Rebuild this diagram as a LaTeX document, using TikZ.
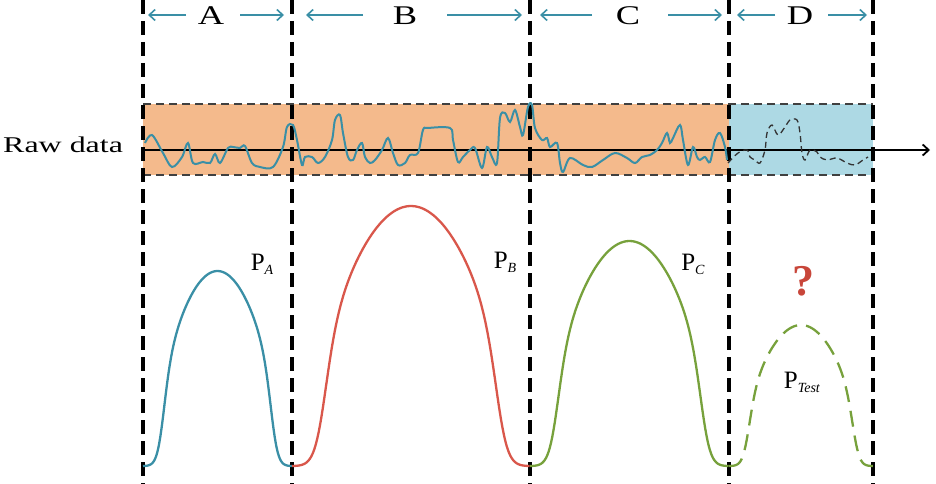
\documentclass[tikz,border=0pt]{standalone}
\usepackage{fontspec}
\setmainfont{Liberation Serif}
\usetikzlibrary{arrows.meta}
\definecolor{teal1}{HTML}{3A8FA6}
\definecolor{orangebg}{HTML}{F4BA8C}
\definecolor{bluebg}{HTML}{ADD9E4}
\definecolor{redc}{HTML}{D9574B}
\definecolor{greenc}{HTML}{77A13C}
\definecolor{qred}{HTML}{C8463A}
\tikzset{
  declare function={bumpf(\t)=(1-(2*\t-1)^2)/(1+exp((abs(2*\t-1)-0.74)/0.05));},
  vline/.style={line width=3.2pt, dash pattern=on 14pt off 7pt},
  boxline/.style={draw=black!75, line width=1.3pt, dash pattern=on 8pt off 5pt},
  rangearrow/.style={teal1, line width=1.6pt, -{Straight Barb[length=6pt,width=11pt]}},
  seclabel/.style={font=\fontsize{27}{27}\selectfont, inner sep=0pt},
  sig/.style={teal1, line width=2pt},
  bump/.style={line width=2.3pt},
  plabel/.style={font=\fontsize{25}{25}\selectfont, inner sep=0pt}
}
% bump: x0, x1, height, style
\newcommand\drawbump[4]{%
  \draw[bump,#4] plot[domain=0:1, samples=161, smooth] ({#1+\x*(#2-#1)},{466-#3*bumpf(\x)});}
\begin{document}
\begin{tikzpicture}[x=1pt,y=-1pt]
\useasboundingbox (0,0) rectangle (936,484);
% coloured boxes
\fill[orangebg] (143,104) rectangle (729,175);
\fill[bluebg] (729,104) rectangle (873,175);
\draw[boxline] (143,104) -- (873,104);
\draw[boxline] (143,175) -- (873,175);
% vertical dashed lines
\foreach \x/\n in {143/l0,292/l1,530/l2,729/l3,873/l4}{
  \coordinate (\n t) at (\x,0);
  \coordinate (\n b) at (\x,484);
  \draw[vline] (\n t) -- (\n b);
}
% section labels and arrows
\node[seclabel] (A) at (211,16) {\scalebox{1.35}[1]{A}};
\node[seclabel] (B) at (405,16) {\scalebox{1.35}[1]{B}};
\node[seclabel] (C) at (628,16) {\scalebox{1.35}[1]{C}};
\node[seclabel] (D) at (800,16) {\scalebox{1.35}[1]{D}};
\coordinate (a1) at (186,15); \coordinate (a2) at (148,15);
\coordinate (a3) at (240,15); \coordinate (a4) at (284,15);
\coordinate (b1) at (363,15); \coordinate (b2) at (306,15);
\coordinate (b3) at (447,15); \coordinate (b4) at (522,15);
\coordinate (c1) at (592,15); \coordinate (c2) at (540,15);
\coordinate (c3) at (668,15); \coordinate (c4) at (722,15);
\coordinate (d1) at (775,15); \coordinate (d2) at (737,15);
\coordinate (d3) at (828,15); \coordinate (d4) at (867,15);
\foreach \s in {a,b,c,d}{
  \draw[rangearrow] (\s1) -- (\s2);
  \draw[rangearrow] (\s3) -- (\s4);
}
% raw data label and axis
\node[font=\fontsize{22.5}{22.5}\selectfont, inner sep=0pt, anchor=west] (raw) at (3,145) {\scalebox{1.42}[1]{Raw data}};
\coordinate (ax0) at (145,150);
\coordinate (ax1) at (930,150);
\draw[line width=1.8pt, -{Straight Barb[length=6pt,width=11pt]}] (ax0) -- (ax1);
% signal
\draw[sig] plot[smooth, tension=0.55] coordinates {
(145,143) (152,135) (163,153) (172,167) (182,157) (188,143) (193,163) (203,162) (210,163) (215,154) (220,163) (228,148) (233,147) (240,148) (245,146) (252,163) (260,167) (273,167) (283,147) (287,127) (293,125) (297,140) (302,165) (305,157) (312,157) (318,163) (325,157) (332,140) (335,120) (340,115) (343,133) (348,157) (353,160) (357,150) (362,143) (365,157) (370,163) (375,160) (382,150) (388,138) (393,153) (398,165) (405,163) (410,155) (418,153) (423,130) (428,128) (450,128) (453,140) (458,162) (463,157) (470,150) (475,148) (482,168) (487,147) (492,157) (497,163) (500,118) (505,113) (510,122) (515,110) (520,127) (523,135) (528,107) (532,105) (535,128) (542,140) (547,138) (550,147) (557,143) (560,163) (563,172) (570,158) (583,165) (592,167) (603,160) (615,153) (627,158) (635,163) (642,157) (650,155) (657,150) (662,143) (667,133) (670,143) (673,138) (680,125) (683,140) (688,165) (693,147) (697,157) (700,160) (705,157) (710,162) (715,140) (720,133) (725,147) (727,160)};
\draw[black!80, line width=1.3pt, dash pattern=on 6pt off 4pt] plot[smooth, tension=0.55] coordinates {
(728,163) (738,153) (747,150) (750,157) (755,160) (760,163) (765,150) (767,133) (772,125) (778,135) (785,127) (790,120) (797,120) (800,133) (802,153) (805,160) (810,150) (817,152) (820,157) (827,160) (837,158) (847,163) (855,165) (863,160) (868,157)};
% bumps
\drawbump{143}{292}{195}{teal1}
\drawbump{292}{530}{260}{redc}
\drawbump{530}{729}{225}{greenc}
\drawbump{729}{873}{141}{greenc, dash pattern=on 16pt off 9pt}
% labels
\node[plabel] (pa) at (262,264) {P\raisebox{-4pt}{\fontsize{14}{14}\selectfont\textit{A}}};
\node[plabel] (pb) at (505,262) {P\raisebox{-4pt}{\fontsize{14}{14}\selectfont\textit{B}}};
\node[plabel] (pc) at (693,264) {P\raisebox{-4pt}{\fontsize{14}{14}\selectfont\textit{C}}};
\node[plabel] (pt) at (802,382) {P\raisebox{-4pt}{\fontsize{14}{14}\selectfont\textit{Test}}};
\node[font=\fontsize{44}{44}\selectfont\bfseries, text=qred, inner sep=0pt] (q) at (803,281) {?};
\end{tikzpicture}
\end{document}
